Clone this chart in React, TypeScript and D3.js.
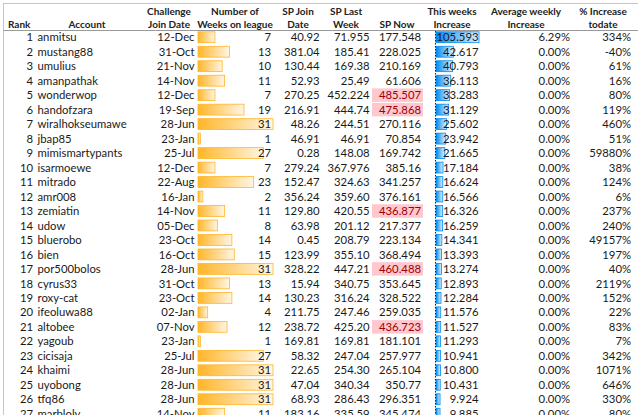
import React from "react";
import * as d3 from "d3";

const ranks = [1,2,3,4,5,6,7,8,9,10,11,12,13,14,15,16,17,18,19,20,21,22,23,24,25,26,27];
const accounts = ["anmitsu","mustang88","umulius","amanpathak","wonderwop","handofzara","wiralhokseumawe","jbap85","mimismartypants","isarmoewe","mitrado","amr008","zemiatin","udow","bluerobo","bien","por500bolos","cyrus33","roxy-cat","ifeoluwa88","altobee","yagoub","cicisaja","khaimi","uyobong","tfq86","marbloly"];
const joinDates = ["12-Dec","31-Oct","21-Nov","14-Nov","12-Dec","19-Sep","28-Jun","23-Jan","25-Jul","12-Dec","22-Aug","16-Jan","14-Nov","05-Dec","23-Oct","16-Oct","28-Jun","31-Oct","23-Oct","02-Jan","07-Nov","23-Jan","25-Jul","28-Jun","28-Jun","28-Jun","14-Nov"];
const weeks = [7,13,10,11,7,19,31,1,27,7,23,2,11,8,14,15,31,13,14,4,12,1,27,31,31,31,11];
const spJoin = ["40.92","381.04","130.44","52.93","270.25","216.91","48.26","46.91","0.28","279.24","152.47","356.24","129.80","63.98","0.45","123.99","328.22","15.94","130.23","211.75","238.72","169.81","58.32","22.65","47.04","68.93","183.16"];
const spLast = ["71.955","185.41","169.38","25.49","452.224","444.74","244.51","46.91","148.08","367.976","324.63","359.60","420.55","201.12","208.79","355.10","447.21","340.75","316.24","247.46","425.20","169.81","247.04","254.30","340.34","286.43","335.59"];
const spNow = [177.548,228.025,210.169,61.606,485.507,475.868,270.116,70.854,169.742,385.16,341.257,376.161,436.877,217.377,223.134,368.494,460.488,353.645,328.522,259.035,436.723,181.101,257.977,265.104,350.77,296.351,345.474];
const spNowLabels = ["177.548","228.025","210.169","61.606","485.507","475.868","270.116","70.854","169.742","385.16","341.257","376.161","436.877","217.377","223.134","368.494","460.488","353.645","328.522","259.035","436.723","181.101","257.977","265.104","350.77","296.351","345.474"];
const increase = [105.593,42.617,40.793,36.113,33.283,31.129,25.602,23.942,21.665,17.184,16.624,16.566,16.326,16.259,14.341,13.393,13.274,12.893,12.284,11.576,11.527,11.293,10.941,10.800,10.431,9.924,9.885];
const increaseLabels = ["105.593","42.617","40.793","36.113","33.283","31.129","25.602","23.942","21.665","17.184","16.624","16.566","16.326","16.259","14.341","13.393","13.274","12.893","12.284","11.576","11.527","11.293","10.941","10.800","10.431","9.924","9.885"];
const avgWeekly = ["6.29%","0.00%","0.00%","0.00%","0.00%","0.00%","0.00%","0.00%","0.00%","0.00%","0.00%","0.00%","0.00%","0.00%","0.00%","0.00%","0.00%","0.00%","0.00%","0.00%","0.00%","0.00%","0.00%","0.00%","0.00%","0.00%","0.00%"];
const pctIncrease = ["334%","-40%","61%","16%","80%","119%","460%","51%","59880%","38%","124%","6%","237%","240%","49157%","197%","40%","2119%","152%","22%","83%","7%","342%","1071%","646%","330%","80%"];
const headers = [
  { l1: "", l2: "Rank", x: 8, anchor: "start" },
  { l1: "", l2: "Account", x: 87, anchor: "middle" },
  { l1: "Challenge", l2: "Join Date", x: 169, anchor: "middle" },
  { l1: "Number of", l2: "Weeks on league", x: 235, anchor: "middle" },
  { l1: "SP Join", l2: "Date", x: 298, anchor: "middle" },
  { l1: "SP Last", l2: "Week", x: 346, anchor: "middle" },
  { l1: "", l2: "SP Now", x: 397, anchor: "middle" },
  { l1: "This weeks", l2: "Increase", x: 452, anchor: "middle" },
  { l1: "Average weekly", l2: "Increase", x: 526, anchor: "middle" },
  { l1: "% Increase", l2: "todate", x: 603, anchor: "middle" },
];
const highlightThreshold = 430;

const W = 638, H = 415;
const FONT = "Lato, 'Open Sans', sans-serif";

export default function App() {
  const headerBottom = 30;
  const rowH = 14.48;
  const y = d3.scaleBand<number>().domain(ranks).range([headerBottom, headerBottom + rowH * ranks.length]).padding(0);
  const xWeeks = d3.scaleLinear().domain([0, d3.max(weeks) as number]).range([0, 75]);
  const xInc = d3.scaleLinear().domain([0, d3.max(increase) as number]).range([0, 43]);
  const barPad = 1.8;
  const fs = 11.3;

  return (
    <svg width={W} height={H} style={{ position: "absolute", left: 0, top: 0, background: "#fff" }} fontFamily={FONT}>
      <defs>
        <linearGradient id="gOrange" x1="0" x2="1" y1="0" y2="0">
          <stop offset="0" stopColor="#FFB628" />
          <stop offset="1" stopColor="#FFF6E6" />
        </linearGradient>
        <linearGradient id="gBlue" x1="0" x2="1" y1="0" y2="0">
          <stop offset="0" stopColor="#008AEF" />
          <stop offset="1" stopColor="#E3F1FC" />
        </linearGradient>
      </defs>
      <rect x={0} y={0} width={W} height={H} fill="#fff" />
      <line x1={3} x2={W} y1={3.5} y2={3.5} stroke="#c6c6c6" />
      <line x1={3.5} x2={3.5} y1={3} y2={H} stroke="#c6c6c6" />
      <line x1={3} x2={W} y1={headerBottom + 0.5} y2={headerBottom + 0.5} stroke="#9a9a9a" />

      {headers.map((h, i) => (
        <g key={i} fontWeight="bold" fontSize={10} fill="#222">
          {h.l1 && <text x={h.x} y={15} textAnchor={h.anchor}>{h.l1}</text>}
          <text x={h.x} y={28} textAnchor={h.anchor}>{h.l2}</text>
        </g>
      ))}

      {ranks.map((r, i) => {
        const top = y(r) as number;
        const bh = y.bandwidth();
        const ty = top + bh / 2 + 4.1;
        const hl = spNow[i] > highlightThreshold;
        return (
          <g key={r} fontSize={fs} fill="#1a1a1a">
            {hl && <rect x={372} y={top + 0.5} width={51} height={bh - 1} fill="#FFC7CE" />}
            <rect x={198} y={top + barPad} width={xWeeks(weeks[i])} height={bh - barPad * 2} fill="url(#gOrange)" stroke="#FFB628" strokeWidth={0.8} />
            <rect x={436} y={top + barPad} width={xInc(increase[i])} height={bh - barPad * 2} fill="url(#gBlue)" stroke="#008AEF" strokeWidth={0.8} />
            <text x={33} y={ty} textAnchor="end">{r}</text>
            <text x={37.5} y={ty}>{accounts[i]}</text>
            <text x={194.5} y={ty} textAnchor="end">{joinDates[i]}</text>
            <text x={271} y={ty} textAnchor="end">{weeks[i]}</text>
            <text x={319.5} y={ty} textAnchor="end">{spJoin[i]}</text>
            <text x={369.5} y={ty} textAnchor="end">{spLast[i]}</text>
            <text x={421} y={ty} textAnchor="end" fill={hl ? "#9C0006" : "#1a1a1a"}>{spNowLabels[i]}</text>
            <text x={478.5} y={ty} textAnchor="end">{increaseLabels[i]}</text>
            <text x={570} y={ty} textAnchor="end">{avgWeekly[i]}</text>
            <text x={631} y={ty} textAnchor="end">{pctIncrease[i]}</text>
          </g>
        );
      })}
      <line x1={435.5} x2={435.5} y1={headerBottom + 1} y2={H} stroke="#222" strokeDasharray="1.5,1.5" />
    </svg>
  );
}
